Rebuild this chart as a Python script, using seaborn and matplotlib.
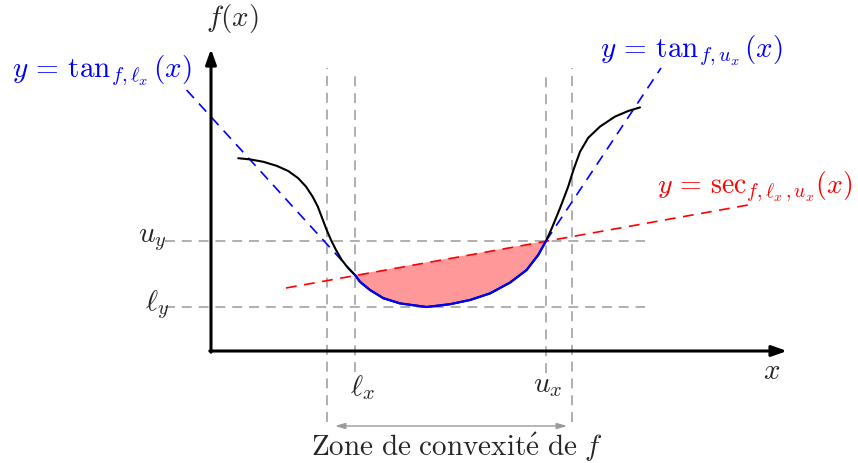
import matplotlib
matplotlib.use("Agg")
import matplotlib.pyplot as plt
import seaborn as sns
import pandas as pd

sns.set_style("white")
plt.rcParams["mathtext.fontset"] = "cm"
plt.rcParams["font.family"] = ["DejaVu Serif"]

# ---- data (units: diagram coordinates, origin at the axes corner) ----
curve_x = [0.68, 0.975, 1.31, 1.64, 1.93, 2.18, 2.375, 2.54, 2.67, 2.78, 2.89,
           3.0, 3.125, 3.27, 3.43, 3.6, 3.725, 3.975, 4.31, 4.725, 5.39, 5.975,
           6.475, 6.975, 7.475, 7.89, 8.18, 8.375, 8.52, 8.725, 8.93, 9.06,
           9.225, 9.43, 9.725, 10.1, 10.43, 10.725]
curve_y = [4.82, 4.79, 4.73, 4.63, 4.50, 4.32, 4.11, 3.86, 3.61, 3.32, 3.03,
           2.775, 2.525, 2.275, 2.07, 1.9, 1.73, 1.525, 1.32, 1.19, 1.1, 1.17,
           1.275, 1.44, 1.71, 2.025, 2.4, 2.75, 3.07, 3.57, 4.11, 4.525,
           4.98, 5.33, 5.61, 5.86, 6.0, 6.09]
l_x, u_x = 3.6, 8.375
l_y, u_y = 1.1, 2.75
zone = [2.9, 9.025]
tan_l_x = [-0.61, 3.6]
tan_l_y = [6.525, 1.9]
tan_u_x = [8.375, 11.25]
tan_u_y = [2.75, 7.075]
sec_x = [1.875, 13.425]
sec_y = [1.575, 3.65]

df = pd.DataFrame({"x": curve_x, "y": curve_y})
conv = df[(df.x >= l_x) & (df.x <= u_x)]

fig = plt.figure(figsize=(8.58, 4.63), dpi=100)
ax = fig.add_axes([0, 0, 1, 1])
ax.set_xlim(-5.275, 16.175)
ax.set_ylim(-2.8, 8.775)
ax.axis("off")

gray = "#9a9a9a"
dash = (0, (6.5, 4.5))
lwd = 1.1

# grey helper lines
for xv, ytop, ybot in [(zone[0], 7.075, -1.78), (l_x, 7.0, -0.53),
                       (u_x, 7.0, -0.55), (zone[1], 7.075, -1.78)]:
    ax.plot([xv, xv], [ybot, ytop], color=gray, lw=lwd, ls=dash, zorder=1)
for yv in [u_y, l_y]:
    ax.plot([-1.15, 10.85], [yv, yv], color=gray, lw=lwd, ls=dash, zorder=1)

# filled area between convex part and secant
ax.fill(conv.x, conv.y, color="#ff9999", lw=0, zorder=2)

# curves
sns.lineplot(data=df, x="x", y="y", sort=False, color="black", lw=1.5, ax=ax,
             zorder=4, estimator=None, solid_joinstyle="round")
sns.lineplot(data=conv, x="x", y="y", sort=False, color="blue", lw=1.6, ax=ax,
             zorder=5, estimator=None, solid_joinstyle="round")
ax.plot(tan_l_x, tan_l_y, color="blue", lw=1.2, ls=dash, zorder=3)
ax.plot(tan_u_x, tan_u_y, color="blue", lw=1.2, ls=dash, zorder=3)
ax.plot(sec_x, sec_y, color="red", lw=1.2, ls=dash, zorder=3)
ax.set_xlabel("")
ax.set_ylabel("")

# axes arrows
arr = dict(arrowstyle="-|>,head_length=0.9,head_width=0.32", lw=2.2, color="black",
           shrinkA=0, shrinkB=0)
ax.annotate("", xy=(14.4, 0), xytext=(-0.03, 0), arrowprops=arr, zorder=6)
ax.annotate("", xy=(0, 7.55), xytext=(0, -0.03), arrowprops=arr, zorder=6)

# zone arrow
ax.annotate("", xy=(8.9, -1.875), xytext=(3.1, -1.875),
            arrowprops=dict(arrowstyle="<|-|>,head_length=0.6,head_width=0.18",
                            lw=1.0, color=gray, shrinkA=0, shrinkB=0))

fs = 21
ax.text(6.15, -2.4,
        r"$\mathrm{Zone\ de\ convexit}\acute{\mathrm{e}}\mathrm{\ de}\ f$",
        fontsize=fs, ha="center", va="center")
ax.text(0.525, 8.3, r"$f(x)$", fontsize=fs, ha="center", va="center")
ax.text(14.025, -0.5, r"$x$", fontsize=fs, ha="center", va="center")
ax.text(3.775, -0.92, r"$\ell_x$", fontsize=fs, ha="center", va="center")
ax.text(8.425, -0.85, r"$u_x$", fontsize=fs, ha="center", va="center")
ax.text(-1.1, 2.8, r"$u_y$", fontsize=fs, ha="right", va="center")
ax.text(-1.05, 1.15, r"$\ell_y$", fontsize=fs, ha="right", va="center")
ax.text(-4.975, 7.0, r"$y\,=\,\tan_{f,\ell_x}(x)$", fontsize=fs, color="blue",
        ha="left", va="center")
ax.text(9.725, 7.5, r"$y\,=\,\tan_{f,u_x}(x)$", fontsize=fs, color="blue",
        ha="left", va="center")
ax.text(16.05, 4.1, r"$y\,=\,\sec_{f,\ell_x,u_x}(x)$", fontsize=20, color="red",
        ha="right", va="center")

fig.savefig("out.png", dpi=100)
